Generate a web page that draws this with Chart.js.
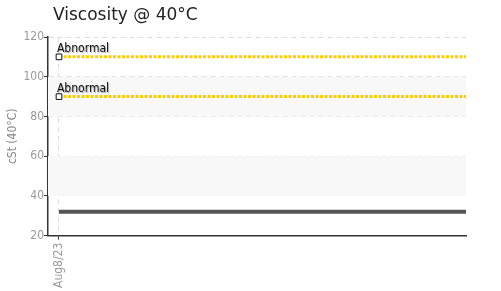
<!DOCTYPE html>
<html>
<head>
<meta charset="utf-8">
<script src="https://cdn.jsdelivr.net/npm/chart.js@4"></script>
<style>
  body { margin: 0; background: #fff; }
</style>
</head>
<body>
<canvas id="viscChart" width="501" height="291"></canvas>
<script>
const dates = ['Aug8/23']
const viscosity = [32]
const abnormalLevels = [110, 90]
const abnormalLabel = 'Abnormal'
const bands = [[40, 60], [80, 100]]
const yTicks = [20, 40, 60, 80, 100, 120]
const chartTitle = 'Viscosity @ 40°C'

const narrow = '"Liberation Sans Narrow", "DejaVu Sans Condensed", sans-serif'

// x is the sample index; the reference lines run to the right edge
const xEnd = 1
const spanLine = (y) => [{x: 0, y: y}, {x: xEnd, y: y}]

const bandPlugin = {
  id: 'bands',
  beforeDatasetsDraw(chart) {
    const {ctx, chartArea, scales} = chart
    ctx.save()
    ctx.fillStyle = '#f8f8f8'
    bands.forEach(b => {
      const top = scales.y.getPixelForValue(b[1])
      const bot = scales.y.getPixelForValue(b[0])
      ctx.fillRect(chartArea.left, top, chartArea.right - chartArea.left, bot - top)
    })
    ctx.restore()
  },
  beforeDraw(chart) {
    // title sits a little in from the axis
    const {ctx, chartArea} = chart
    ctx.save()
    ctx.font = '17px "DejaVu Sans", sans-serif'
    ctx.fillStyle = '#222'
    ctx.textBaseline = 'middle'
    ctx.fillText(chartTitle, chartArea.left + 5, 16)
    ctx.restore()
  }
}

const labelPlugin = {
  id: 'abnormalLabels',
  afterDatasetsDraw(chart) {
    const {ctx} = chart
    ctx.save()
    ctx.font = '12px ' + narrow
    ctx.fillStyle = '#111'
    ctx.textBaseline = 'alphabetic'
    ctx.shadowColor = 'rgba(0,0,0,0.35)'
    ctx.shadowOffsetX = 1
    ctx.shadowOffsetY = 1
    ctx.shadowBlur = 1
    chart.data.datasets.forEach((ds, i) => {
      if (!ds.abnormal) return
      const pt = chart.getDatasetMeta(i).data[0]
      ctx.fillText(abnormalLabel, pt.x - 2, pt.y - 5)
    })
    ctx.restore()
  }
}

const abnormalSets = abnormalLevels.map(v => ({
  abnormal: true,
  data: spanLine(v),
  borderColor: '#ffcc00',
  borderWidth: 3,
  borderDash: [3, 1.5],
  pointStyle: 'rect',
  pointRadius: [4, 0],
  pointBackgroundColor: '#fff',
  pointBorderColor: '#111',
  pointBorderWidth: 1
}))

let ctx = document.getElementById('viscChart').getContext('2d')
let chart = new Chart(ctx, {
  type: 'line',
  data: {
    datasets: [
      {
        data: spanLine(viscosity[0]),
        borderColor: '#555',
        borderWidth: 4,
        pointRadius: 0
      },
      ...abnormalSets
    ]
  },
  options: {
    responsive: false,
    animation: false,
    layout: { padding: { right: 35, top: 37, left: 6 } },
    plugins: {
      legend: { display: false },
      tooltip: { enabled: false },
      title: { display: false }
    },
    scales: {
      x: {
        type: 'linear',
        min: -0.027,
        max: xEnd,
        afterBuildTicks: (axis) => { axis.ticks = dates.map((d, i) => ({value: i})) },
        ticks: {
          callback: (v) => dates[v],
          maxRotation: 90,
          minRotation: 90,
          color: '#999',
          font: { size: 12, family: narrow }
        },
        grid: {
          color: '#ddd',
          tickColor: '#333',
          tickBorderDash: [],
          tickLength: 4
        },
        border: { display: true, color: '#333', width: 1.5, dash: [5, 4] }
      },
      y: {
        min: 20,
        max: 120,
        afterBuildTicks: (axis) => { axis.ticks = yTicks.map(v => ({value: v})) },
        ticks: {
          color: '#999',
          padding: 0,
          font: { size: 12, family: narrow }
        },
        title: {
          display: true,
          text: 'cSt (40°C)',
          color: '#888',
          font: { size: 12, family: narrow },
          padding: { top: 0, bottom: 3 }
        },
        grid: {
          color: '#ddd',
          tickColor: '#333',
          tickBorderDash: [],
          tickLength: 4
        },
        border: { display: true, color: '#333', width: 1.5, dash: [5, 4] }
      }
    }
  },
  plugins: [bandPlugin, labelPlugin]
})
</script>
</body>
</html>
